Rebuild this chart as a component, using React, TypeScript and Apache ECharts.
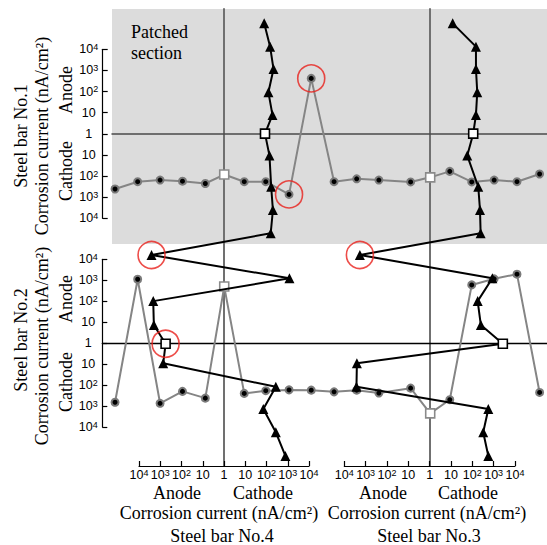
import React, { useEffect, useRef } from "react";
import * as echarts from "echarts";

// Position of measuring points (cm) along horizontal bars No.1 and No.2
const horizPos = [1.4, 11.8, 22.1, 32.4, 42.9, 51.6, 60.8, 70.7, 81.4, 91.6, 102.1, 112.5, 122.7, 137.3, 146.3, 155.3, 165.4, 175.7, 186.2, 196.6];
// Position of measuring points (cm) along vertical bars No.4 and No.3 (from the top)
const vertPos = [6.6, 17.3, 27.6, 38.3, 48.7, 57.3, 67.4, 81.7, 92.4, 103.1, 113.1, 123.8, 134.3, 145.3, 153.9, 162.9, 173.7, 183.9, 194.6, 205.5];

// Corrosion current (nA/cm²): anode positive, cathode negative
const bar1Current = [-410, -185, -155, -175, -225, -85, -185, -185, -740, 420, -185, -135, -155, -190, -115, -60, -190, -155, -185, -80];
const bar2Current = [-660, 1120, -740, -200, -420, 500, -250, -185, -170, -175, -210, -175, -240, -140, -2240, -500, 600, 1175, 1950, -225];
const bar4Current = [-78, -148, -214, -123, -191, -85, -138, -166, -200, -158, 2570, -1200, 2140, 2000, 560, 725, -275, -71, -275, -776];
const bar3Current = [-12, -148, -148, -170, -148, -110, -58, -190, -229, -245, 1860, -870, -178, -251, -2690, 2570, 2690, -562, -324, -562];

// Indices of the points where bars cross each other
const crossIdx = [5, 14];
// Circled (highlighted) points
const bar1Circled = [8, 9];
const bar4Circled = [10, 14];
const bar3Circled = [10];

// Tick labels for decades -4..4 (symmetric log scale): base and exponent
const tickBase = ["10", "10", "10", "10", "1", "10", "10", "10", "10"];
const tickExp = ["4", "3", "2", "", "", "", "2", "3", "4"];

const SERIF = '"Liberation Serif", "Times New Roman", serif';
const SANS = '"Liberation Sans", Arial, sans-serif';

const slog = (v: number) => (v === 0 ? 0 : Math.sign(v) * Math.log10(Math.abs(v)));
const fmt = (v: number) => {
  const i = Math.round(v) + 4;
  if (i < 0 || i > 8) return "";
  return tickExp[i] ? `{b|${tickBase[i]}}{s|${tickExp[i]}}` : `{b|${tickBase[i]}}`;
};
const richLabel = {
  b: { fontSize: 12.5, fontFamily: SANS, color: "#000", lineHeight: 14 },
  s: { fontSize: 9, fontFamily: SANS, color: "#000", lineHeight: 8, verticalAlign: "top" },
};

export default function App() {
  const ref = useRef<HTMLDivElement>(null);
  useEffect(() => {
    if (!ref.current) return;
    const chart = echarts.init(ref.current, undefined, { renderer: "svg" });

    const makeItem = (p: number, c: number, i: number, horiz: boolean) => {
      const value = horiz ? [p, slog(c)] : [slog(c), p];
      if (crossIdx.includes(i)) {
        return {
          value,
          symbol: "rect",
          symbolSize: 9,
          itemStyle: { color: "#fff", borderColor: horiz ? "#8a8a8a" : "#000", borderWidth: 1.6 },
        };
      }
      return { value };
    };

    const grayLine = (data: number[], axis: number) => ({
      type: "line",
      xAxisIndex: axis,
      yAxisIndex: axis,
      data: horizPos.map((p, i) => makeItem(p, data[i], i, true)),
      symbol: "circle",
      symbolSize: 7,
      itemStyle: { color: "#000", borderColor: "#7a7a7a", borderWidth: 2 },
      lineStyle: { color: "#858585", width: 2 },
      z: 3,
      silent: true,
      emphasis: { disabled: true },
    });

    const blackLine = (data: number[], axis: number) => ({
      type: "line",
      xAxisIndex: axis,
      yAxisIndex: axis,
      data: vertPos.map((p, i) => makeItem(p, data[i], i, false)),
      symbol: "triangle",
      symbolSize: 10,
      itemStyle: { color: "#000" },
      lineStyle: { color: "#000", width: 2 },
      z: 4,
      silent: true,
      emphasis: { disabled: true },
    });

    const circles = (pts: number[][], axis: number) => ({
      type: "scatter",
      xAxisIndex: axis,
      yAxisIndex: axis,
      data: pts,
      symbol: "circle",
      symbolSize: 27,
      itemStyle: { color: "rgba(0,0,0,0)", borderColor: "#e8201c", borderWidth: 1.6 },
      z: 6,
      silent: true,
      emphasis: { disabled: true },
    });

    const posAxisH = (grid: number, min: number, color: string, width: number) => ({
      type: "value",
      gridIndex: grid,
      min,
      max: 200,
      axisLine: { show: true, onZero: true, lineStyle: { color, width } },
      axisTick: { show: false },
      axisLabel: { show: false },
      splitLine: { show: false },
    });

    const curAxisY = (grid: number, offset: number) => ({
      type: "value",
      gridIndex: grid,
      min: -4,
      max: 4,
      interval: 1,
      position: "left",
      offset,
      axisLine: { show: true, onZero: false, lineStyle: { color: "#000", width: 1.2 } },
      axisTick: { show: true, inside: true, length: 5, lineStyle: { color: "#000", width: 1.2 } },
      axisLabel: {
        formatter: fmt,
        rich: richLabel,
        fontSize: 12.5,
        fontFamily: SANS,
        align: "center",
        margin: 14,
        color: "#000",
      },
      splitLine: { show: false },
    });

    const curAxisX = (grid: number) => ({
      type: "value",
      gridIndex: grid,
      min: -4,
      max: 4,
      interval: 1,
      inverse: true,
      position: "bottom",
      axisLine: { show: true, onZero: false, lineStyle: { color: "#000", width: 1.2 } },
      axisTick: { show: true, inside: true, length: 5, lineStyle: { color: "#000", width: 1.2 } },
      axisLabel: {
        formatter: fmt,
        rich: richLabel,
        fontSize: 12.5,
        fontFamily: SANS,
        margin: 2,
        color: "#000",
      },
      splitLine: { show: false },
    });

    const posAxisV = (grid: number) => ({
      type: "value",
      gridIndex: grid,
      min: 0,
      max: 210.1,
      inverse: true,
      axisLine: { show: true, onZero: true, lineStyle: { color: "#707070", width: 2 } },
      axisTick: { show: false },
      axisLabel: { show: false },
      splitLine: { show: false },
    });

    const txt = (text: string, x: number, y: number, rotate = false, extra: any = {}) => ({
      type: "text",
      x,
      y,
      rotation: rotate ? Math.PI / 2 : 0,
      z: 10,
      style: {
        text,
        fill: "#000",
        fontSize: 18,
        fontFamily: SERIF,
        align: "center",
        verticalAlign: "middle",
        textAlign: "center",
        textVerticalAlign: "middle",
        ...extra,
      },
    });

    chart.setOption({
      animation: false,
      grid: [
        { left: 112, top: 49.3, width: 435, height: 169 },
        { left: 102.3, top: 259.3, width: 444.7, height: 167.7 },
        { left: 139, top: 9, width: 170, height: 457 },
        { left: 344.3, top: 9, width: 170.7, height: 457 },
      ],
      xAxis: [
        posAxisH(0, 0, "#4a4a4a", 1.5),
        posAxisH(1, -4.46, "#000", 1.3),
        curAxisX(2),
        curAxisX(3),
      ],
      yAxis: [curAxisY(0, 9.3), curAxisY(1, 0), posAxisV(2), posAxisV(3)],
      graphic: [
        {
          type: "rect",
          z: -1,
          shape: { x: 112, y: 9, width: 435, height: 235 },
          style: { fill: "#dcdcdc" },
          silent: true,
        },
        txt("Patched\nsection", 131, 42.5, false, {
          align: "left",
          textAlign: "left",
          lineHeight: 21,
        }),
        txt("Steel bar No.1", 20.5, 136, true),
        txt("Corrosion current (nA/cm²)", 41.5, 136, true),
        txt("Anode", 65.5, 90, true),
        txt("Cathode", 65.5, 171, true),
        txt("Steel bar No.2", 21, 340, true),
        txt("Corrosion current (nA/cm²)", 41.5, 346, true),
        txt("Anode", 65.5, 299, true),
        txt("Cathode", 65.5, 382, true),
        txt("Anode", 177, 492.7),
        txt("Cathode", 263, 492.7),
        txt("Corrosion current (nA/cm²)", 219, 512.7),
        txt("Steel bar No.4", 222, 535.5),
        txt("Anode", 383, 492.7),
        txt("Cathode", 468, 492.7),
        txt("Corrosion current (nA/cm²)", 427, 512.7),
        txt("Steel bar No.3", 429, 535.5),
      ],
      series: [
        grayLine(bar1Current, 0),
        grayLine(bar2Current, 1),
        blackLine(bar4Current, 2),
        blackLine(bar3Current, 3),
        circles(bar1Circled.map((i) => [horizPos[i], slog(bar1Current[i])]), 0),
        circles(bar4Circled.map((i) => [slog(bar4Current[i]), vertPos[i]]), 2),
        circles(bar3Circled.map((i) => [slog(bar3Current[i]), vertPos[i]]), 3),
      ],
    } as any);

    return () => chart.dispose();
  }, []);

  return (
    <div
      ref={ref}
      style={{ position: "fixed", left: 0, top: 0, width: 547, height: 545, background: "#fff" }}
    />
  );
}
